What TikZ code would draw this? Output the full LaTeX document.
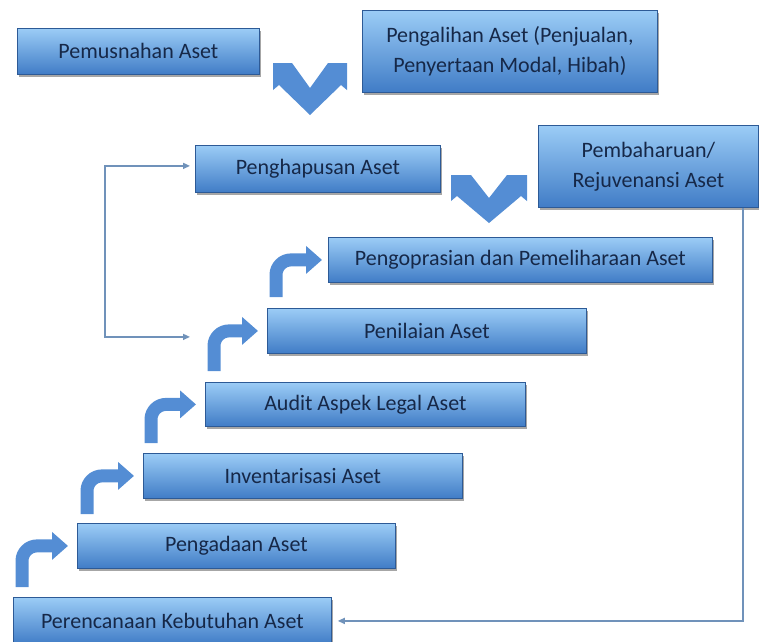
\documentclass[tikz,border=0pt]{standalone}
\usepackage{fontspec}
\setmainfont{Carlito}
\usepackage{xcolor}
\usepackage{tikz}
\usetikzlibrary{arrows.meta, calc, shadows}
\definecolor{boxtop}{RGB}{155,204,246}
\definecolor{boxmid}{RGB}{90,156,226}
\definecolor{boxbot}{RGB}{64,124,198}
\definecolor{boxedge}{RGB}{45,90,150}
\definecolor{arrowblue}{RGB}{84,141,212}
\definecolor{linkblue}{RGB}{112,146,186}
\definecolor{textnavy}{RGB}{22,40,72}
\tikzstyle{stage} = [rectangle, anchor=north west, inner sep=0pt, align=center, draw=boxedge, line width=0.8pt, top color=boxtop, middle color=boxmid, bottom color=boxbot, text=textnavy, drop shadow={shadow xshift=2pt, shadow yshift=-2.5pt, fill=black, opacity=0.35}]
\tikzstyle{stepup} = [line width=13pt, draw=arrowblue, rounded corners=15pt, -{Triangle[width=27pt,length=16pt]}]
\tikzstyle{link} = [line width=1.5pt, draw=linkblue, -{Triangle[length=7pt,width=6pt]}]
\tikzstyle{chevron} = [fill=arrowblue]

\begin{document}
\begin{tikzpicture}[x=1pt, y=-1pt, font=\fontsize{22}{30}\selectfont]
\useasboundingbox (0,0) rectangle (759,641);
\clip (0,0) rectangle (759,641);

% top row
\node (pemusnahan) [stage, minimum width=242pt, minimum height=46pt] at (17,28) {Pemusnahan Aset};
\node (pengalihan) [stage, minimum width=295pt, minimum height=82pt] at (362,10) {Pengalihan Aset (Penjualan,\\Penyertaan Modal, Hibah)};

% second row
\node (penghapusan) [stage, minimum width=245pt, minimum height=47pt] at (195,145) {Penghapusan Aset};
\node (pembaharuan) [stage, minimum width=220pt, minimum height=82pt] at (538,125) {Pembaharuan/\\Rejuvenansi Aset};

% the stairs
\node (pengoprasian) [stage, minimum width=384pt, minimum height=45pt] at (328,237) {Pengoprasian dan Pemeliharaan Aset};
\node (penilaian) [stage, minimum width=319pt, minimum height=45pt] at (267,308) {Penilaian Aset};
\node (audit) [stage, minimum width=320pt, minimum height=44pt] at (205,382) {Audit Aspek Legal Aset};
\node (inventarisasi) [stage, minimum width=319pt, minimum height=45pt] at (143,453) {Inventarisasi Aset};
\node (pengadaan) [stage, minimum width=318pt, minimum height=45pt] at (77,523) {Pengadaan Aset};
\node (perencanaan) [stage, minimum width=318pt, minimum height=47pt] at (13,597) {Perencanaan Kebutuhan Aset};

\draw [stepup] ($(perencanaan.north west)+(9,-10)$) |- ($(pengadaan.west)+(-9,0)$);
\draw [stepup] ($(pengadaan.north west)+(10,-9)$) |- ($(inventarisasi.west)+(-9,0)$);
\draw [stepup] ($(inventarisasi.north west)+(8,-10)$) |- ($(audit.west)+(-9,0)$);
\draw [stepup] ($(audit.north west)+(9,-11)$) |- ($(penilaian.west)+(-9,0)$);
\draw [stepup] ($(penilaian.north west)+(9,-11)$) |- ($(pengoprasian.west)+(-6,0)$);

% the two V shapes
\fill [chevron, shift={(310,63)}] (-37,0) -- (-18,0) -- (0,25) -- (18,0) -- (37,0) -- (37,27) -- (31,22) -- (0,52) -- (-31,22) -- (-37,27) -- cycle;
\fill [chevron, shift={(489,175)}] (-38,0) -- (-18,0) -- (0,23) -- (18,0) -- (38,0) -- (38,26) -- (32,21) -- (0,48) -- (-32,21) -- (-38,26) -- cycle;

% feedback lines
\coordinate (back) at ($(penilaian.west)+(-77,6)$);
\draw [link, {Triangle[length=7pt,width=6pt]}-{Triangle[length=7pt,width=6pt]}] (back) -- ++(-85,0) |- ($(penghapusan.west)+(-5,-3)$);
\draw [link] ($(pembaharuan.south east)+(-16,0)$) |- ($(perencanaan.east)+(6,0)$);

\end{tikzpicture}
\end{document}
